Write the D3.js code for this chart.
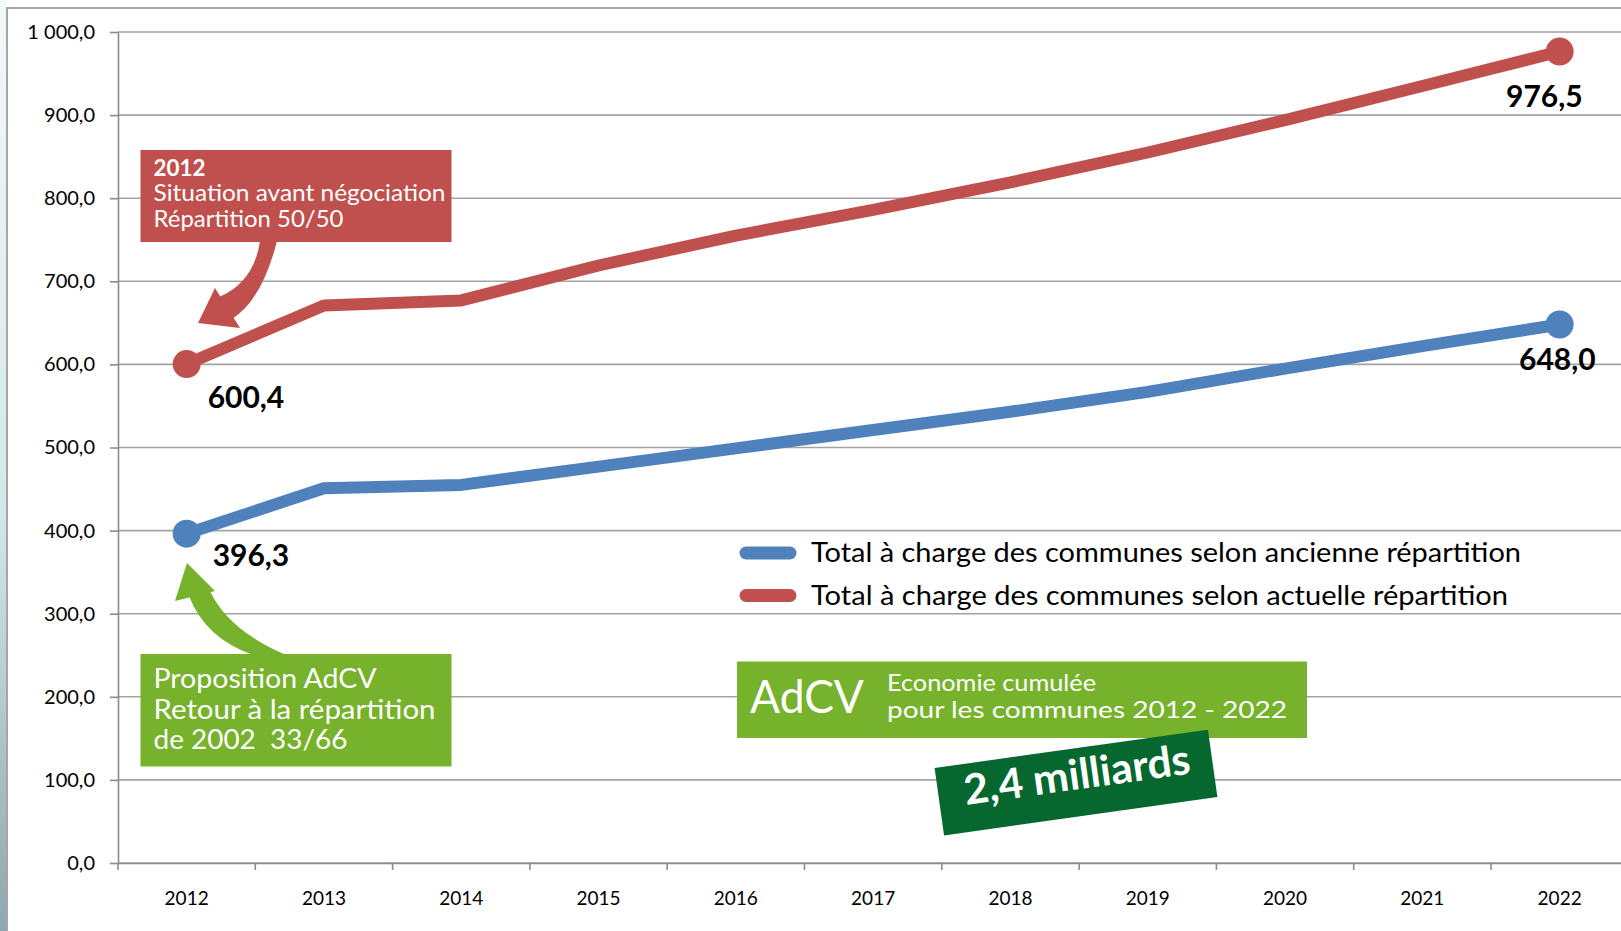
<!DOCTYPE html>
<html>
<head>
<meta charset="utf-8">
<script src="https://cdn.jsdelivr.net/npm/d3@7"></script>
<style>
  body { margin: 0; background: #fff; }
  svg { display: block; font-family: Lato, "Open Sans", sans-serif; }
  text { white-space: pre; }
</style>
</head>
<body>
<div id="chart"></div>
<script>
// --- data ---
const years = ['2012', '2013', '2014', '2015', '2016', '2017', '2018', '2019', '2020', '2021', '2022'];
const ancienne = [396.3, 451, 455, 477, 499, 521, 543, 567, 595, 622, 648.0];
const actuelle = [600.4, 671, 677, 719, 755, 786, 819, 855, 894, 935, 976.5];
const yTicks = [0, 100, 200, 300, 400, 500, 600, 700, 800, 900, 1000];
const seriesNames = [
    'Total à charge des communes selon ancienne répartition',
    'Total à charge des communes selon actuelle répartition'
];
const labelled = [0, 10];

const redNote = ['2012', 'Situation avant négociation', 'Répartition 50/50'];
const greenNote = ['Proposition AdCV', 'Retour à la répartition', 'de 2002  33/66'];
const savingTitle = 'AdCV';
const savingText = ['Economie cumulée', 'pour les communes 2012 - 2022'];
const savingTotal = '2,4 milliards';

const W = 1621, H = 931;
const BLUE = '#4F81BD', RED = '#C0504D', GREEN = '#76B22B', DARK = '#06672F';

const fr = d3.formatLocale({decimal: ',', thousands: ' ', grouping: [3], currency: ['', ' €']});
const fmt = fr.format(',.1f');

const svg = d3.select('#chart').append('svg')
    .attr('width', W).attr('height', H);

// photo strip on the far left + frame
const grad = svg.append('defs').append('linearGradient')
    .attr('id', 'strip').attr('x1', 0).attr('y1', 0).attr('x2', 0).attr('y2', 1);
grad.append('stop').attr('offset', '0%').attr('stop-color', '#f4f8f9');
grad.append('stop').attr('offset', '55%').attr('stop-color', '#d6e6e8');
grad.append('stop').attr('offset', '100%').attr('stop-color', '#8fa7ad');
svg.append('rect').attr('x', 0).attr('y', 0).attr('width', 6).attr('height', H).attr('fill', 'url(#strip)');
svg.append('path')
    .attr('d', 'M7,' + H + 'V8H' + W)
    .attr('fill', 'none').attr('stroke', '#a6a6a6').attr('stroke-width', 2);

const x = d3.scaleBand().domain(years).range([118, 1628.3]).padding(0);
const y = d3.scaleLinear().domain([0, 1000]).range([863, 32]);
const cx = d => x(d) + x.bandwidth() / 2;

// gridlines
svg.append('g').selectAll('line').data(yTicks).join('line')
    .attr('x1', 118).attr('x2', W)
    .attr('y1', d => y(d)).attr('y2', d => y(d))
    .attr('stroke', '#a3a3a3').attr('stroke-width', 1.6);

// y axis
const yAxis = svg.append('g')
    .attr('transform', 'translate(118,0)')
    .call(d3.axisLeft(y).tickValues(yTicks).tickSize(8).tickSizeOuter(0).tickPadding(15).tickFormat(fmt));
yAxis.selectAll('line, path').attr('stroke', '#8c8c8c').attr('stroke-width', 1.6);
yAxis.selectAll('text').attr('font-size', 20).attr('fill', '#000').attr('font-family', 'Lato');

// x axis, labels centred, ticks on category boundaries
const xAxis = svg.append('g')
    .attr('transform', 'translate(0,863)')
    .call(d3.axisBottom(x).tickSize(0).tickPadding(29).tickSizeOuter(0));
xAxis.select('.domain').attr('stroke', '#8c8c8c').attr('stroke-width', 1.6);
xAxis.selectAll('text').attr('font-size', 19).attr('fill', '#000').attr('font-family', 'Lato');
xAxis.selectAll('line.bound').data(years).join('line')
    .attr('class', 'bound')
    .attr('x1', d => x(d)).attr('x2', d => x(d))
    .attr('y1', 0).attr('y2', 7)
    .attr('stroke', '#8c8c8c').attr('stroke-width', 1.6);

// lines
const series = [
    {name: seriesNames[0], values: ancienne, color: BLUE, offsets: [[26, 32, 'start'], [36, 45, 'end']]},
    {name: seriesNames[1], values: actuelle, color: RED, offsets: [[21, 44, 'start'], [23, 55, 'end']]}
];

const line = d3.line()
    .x((d, i) => cx(years[i]))
    .y(d => y(d));

series.forEach(s => {
    svg.append('path')
        .datum(s.values)
        .attr('d', line)
        .attr('fill', 'none')
        .attr('stroke', s.color)
        .attr('stroke-width', 12)
        .attr('stroke-linejoin', 'round');

    svg.append('g').selectAll('circle').data(labelled).join('circle')
        .attr('cx', i => cx(years[i]))
        .attr('cy', i => y(s.values[i]))
        .attr('r', 14)
        .attr('fill', s.color);

    svg.append('g').selectAll('text').data(labelled).join('text')
        .attr('x', (i, k) => cx(years[i]) + s.offsets[k][0])
        .attr('y', (i, k) => y(s.values[i]) + s.offsets[k][1])
        .attr('text-anchor', (i, k) => s.offsets[k][2])
        .attr('font-size', 30)
        .attr('font-weight', 700)
        .attr('fill', '#000')
        .text(i => fr.format('.1f')(s.values[i]));
});

// legend
const legend = svg.append('g').attr('transform', 'translate(746,0)');
const legendWidths = [710, 697];
series.forEach((s, i) => {
    const ly = 553 + i * 42.5;
    legend.append('line')
        .attr('x1', 0).attr('x2', 44).attr('y1', ly).attr('y2', ly)
        .attr('stroke', s.color).attr('stroke-width', 13).attr('stroke-linecap', 'round');
    legend.append('text')
        .attr('x', 65).attr('y', ly + 9)
        .attr('font-size', 26)
        .attr('fill', '#000')
        .attr('textLength', legendWidths[i]).attr('lengthAdjust', 'spacingAndGlyphs')
        .text(s.name);
});

// helper for multi-line boxes
function noteBox(lines, opts) {
    const g = svg.append('g');
    g.append('rect')
        .attr('x', opts.x).attr('y', opts.y)
        .attr('width', opts.w).attr('height', opts.h)
        .attr('fill', opts.fill);
    g.selectAll('text').data(lines).join('text')
        .attr('x', opts.x + 13)
        .attr('y', (d, i) => opts.y + opts.first + i * opts.lh)
        .attr('font-size', opts.size)
        .attr('font-weight', (d, i) => (opts.boldFirst && i === 0) ? 700 : 400)
        .attr('fill', '#fff')
        .attr('textLength', (d, i) => opts.widths[i])
        .attr('lengthAdjust', 'spacingAndGlyphs')
        .text(d => d);
    return g;
}

// red note + arrow to 2012 value
noteBox(redNote, {x: 140.5, y: 150, w: 311, h: 92, fill: RED, first: 25.5, lh: 25.5,
    size: 23, boldFirst: true, widths: [52, 292, 190]});
svg.append('path')
    .attr('d', 'M260,241 Q254,282 219,297 L232,319 Q262,300 277,241 Z')
    .attr('fill', RED);
svg.append('path')
    .attr('d', 'M198,323 L215,288 L240,328 Z')
    .attr('fill', RED);

// green note + arrow to 2012 value
noteBox(greenNote, {x: 140.5, y: 654, w: 311, h: 112.5, fill: GREEN, first: 34, lh: 30.5,
    size: 27, boldFirst: false, widths: [223, 282, 194]});
svg.append('path')
    .attr('d', 'M189,596 Q205,638 253,655 L286,655 Q228,630 210,591 Z')
    .attr('fill', GREEN);
svg.append('path')
    .attr('d', 'M187,563 L175,601 L215,591 Z')
    .attr('fill', GREEN);

// cumulative saving box
const sv = svg.append('g');
sv.append('rect')
    .attr('x', 737).attr('y', 661.5).attr('width', 570).attr('height', 76.5)
    .attr('fill', GREEN);
sv.append('text')
    .attr('x', 750).attr('y', 713)
    .attr('font-size', 46).attr('fill', '#fff')
    .attr('textLength', 114).attr('lengthAdjust', 'spacingAndGlyphs')
    .text(savingTitle);
const savingWidths = [209, 400];
sv.selectAll('text.sub').data(savingText).join('text')
    .attr('class', 'sub')
    .attr('x', 887).attr('y', (d, i) => 691 + i * 26.5)
    .attr('font-size', 24).attr('fill', '#fff')
    .attr('textLength', (d, i) => savingWidths[i]).attr('lengthAdjust', 'spacingAndGlyphs')
    .text(d => d);

const tot = svg.append('g').attr('transform', 'translate(1076,782.5) rotate(-8)');
tot.append('rect')
    .attr('x', -138).attr('y', -34).attr('width', 276).attr('height', 68)
    .attr('fill', DARK);
tot.append('text')
    .attr('x', 2).attr('y', 7)
    .attr('text-anchor', 'middle')
    .attr('font-size', 42).attr('font-weight', 700).attr('fill', '#fff')
    .attr('textLength', 228).attr('lengthAdjust', 'spacingAndGlyphs')
    .text(savingTotal);
</script>
</body>
</html>
